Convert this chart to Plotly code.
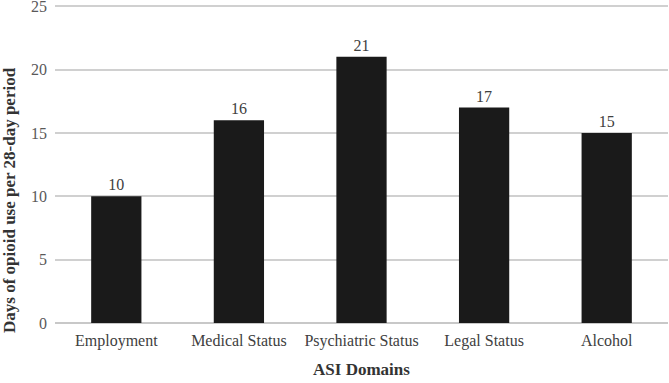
import plotly.graph_objects as go

categories = ["Employment", "Medical Status", "Psychiatric Status", "Legal Status", "Alcohol"]
values = [10, 16, 21, 17, 15]
y_ticks = [0, 5, 10, 15, 20, 25]

FONT = "Liberation Serif, DejaVu Serif, serif"

fig = go.Figure(go.Bar(
    x=categories, y=values,
    marker=dict(color="#1a1a1a", line=dict(width=0)),
    text=[str(v) for v in values], textposition="outside",
    textfont=dict(family=FONT, size=16, color="#404040"),
    cliponaxis=False,
))

L, T, B, W, H = 55, 3, 60, 669, 383
plot_w = W - L - 1
plot_h = H - T - B

fig.update_layout(
    width=W, height=H,
    margin=dict(l=L, r=1, t=T, b=B),
    paper_bgcolor="white", plot_bgcolor="white",
    bargap=0.59,
    showlegend=False,
    font=dict(family=FONT, size=16, color="#595959"),
    xaxis=dict(
        title=dict(text="<b>ASI Domains</b>", font=dict(family=FONT, size=17, color="#333333"), standoff=14),
        showgrid=False, showline=False, zeroline=False, ticks="",
        tickfont=dict(family=FONT, size=16, color="#404040"),
        ticklabelstandoff=6,
        automargin=False,
    ),
    yaxis=dict(
        range=[0, 25.25], tickvals=y_ticks,
        showgrid=True, gridcolor="#d0d0d0", gridwidth=1.5,
        zeroline=True, zerolinecolor="#c8c8c8", zerolinewidth=1.5,
        showline=False, ticks="", ticklabelstandoff=7,
        ticklabeloverflow="allow",
        tickfont=dict(family=FONT, size=16, color="#595959"),
        automargin=False,
    ),
    annotations=[dict(
        text="<b>Days of opioid use per 28-day period</b>",
        textangle=-90, showarrow=False,
        xref="paper", yref="paper",
        x=(9 - L) / plot_w, y=(H - B - 200) / plot_h,
        xanchor="center", yanchor="middle",
        font=dict(family=FONT, size=17, color="#333333"),
    )],
)

fig.write_html("out.html", config={"displayModeBar": False},
               post_script="document.body.style.margin='0';document.body.style.overflow='hidden';")
